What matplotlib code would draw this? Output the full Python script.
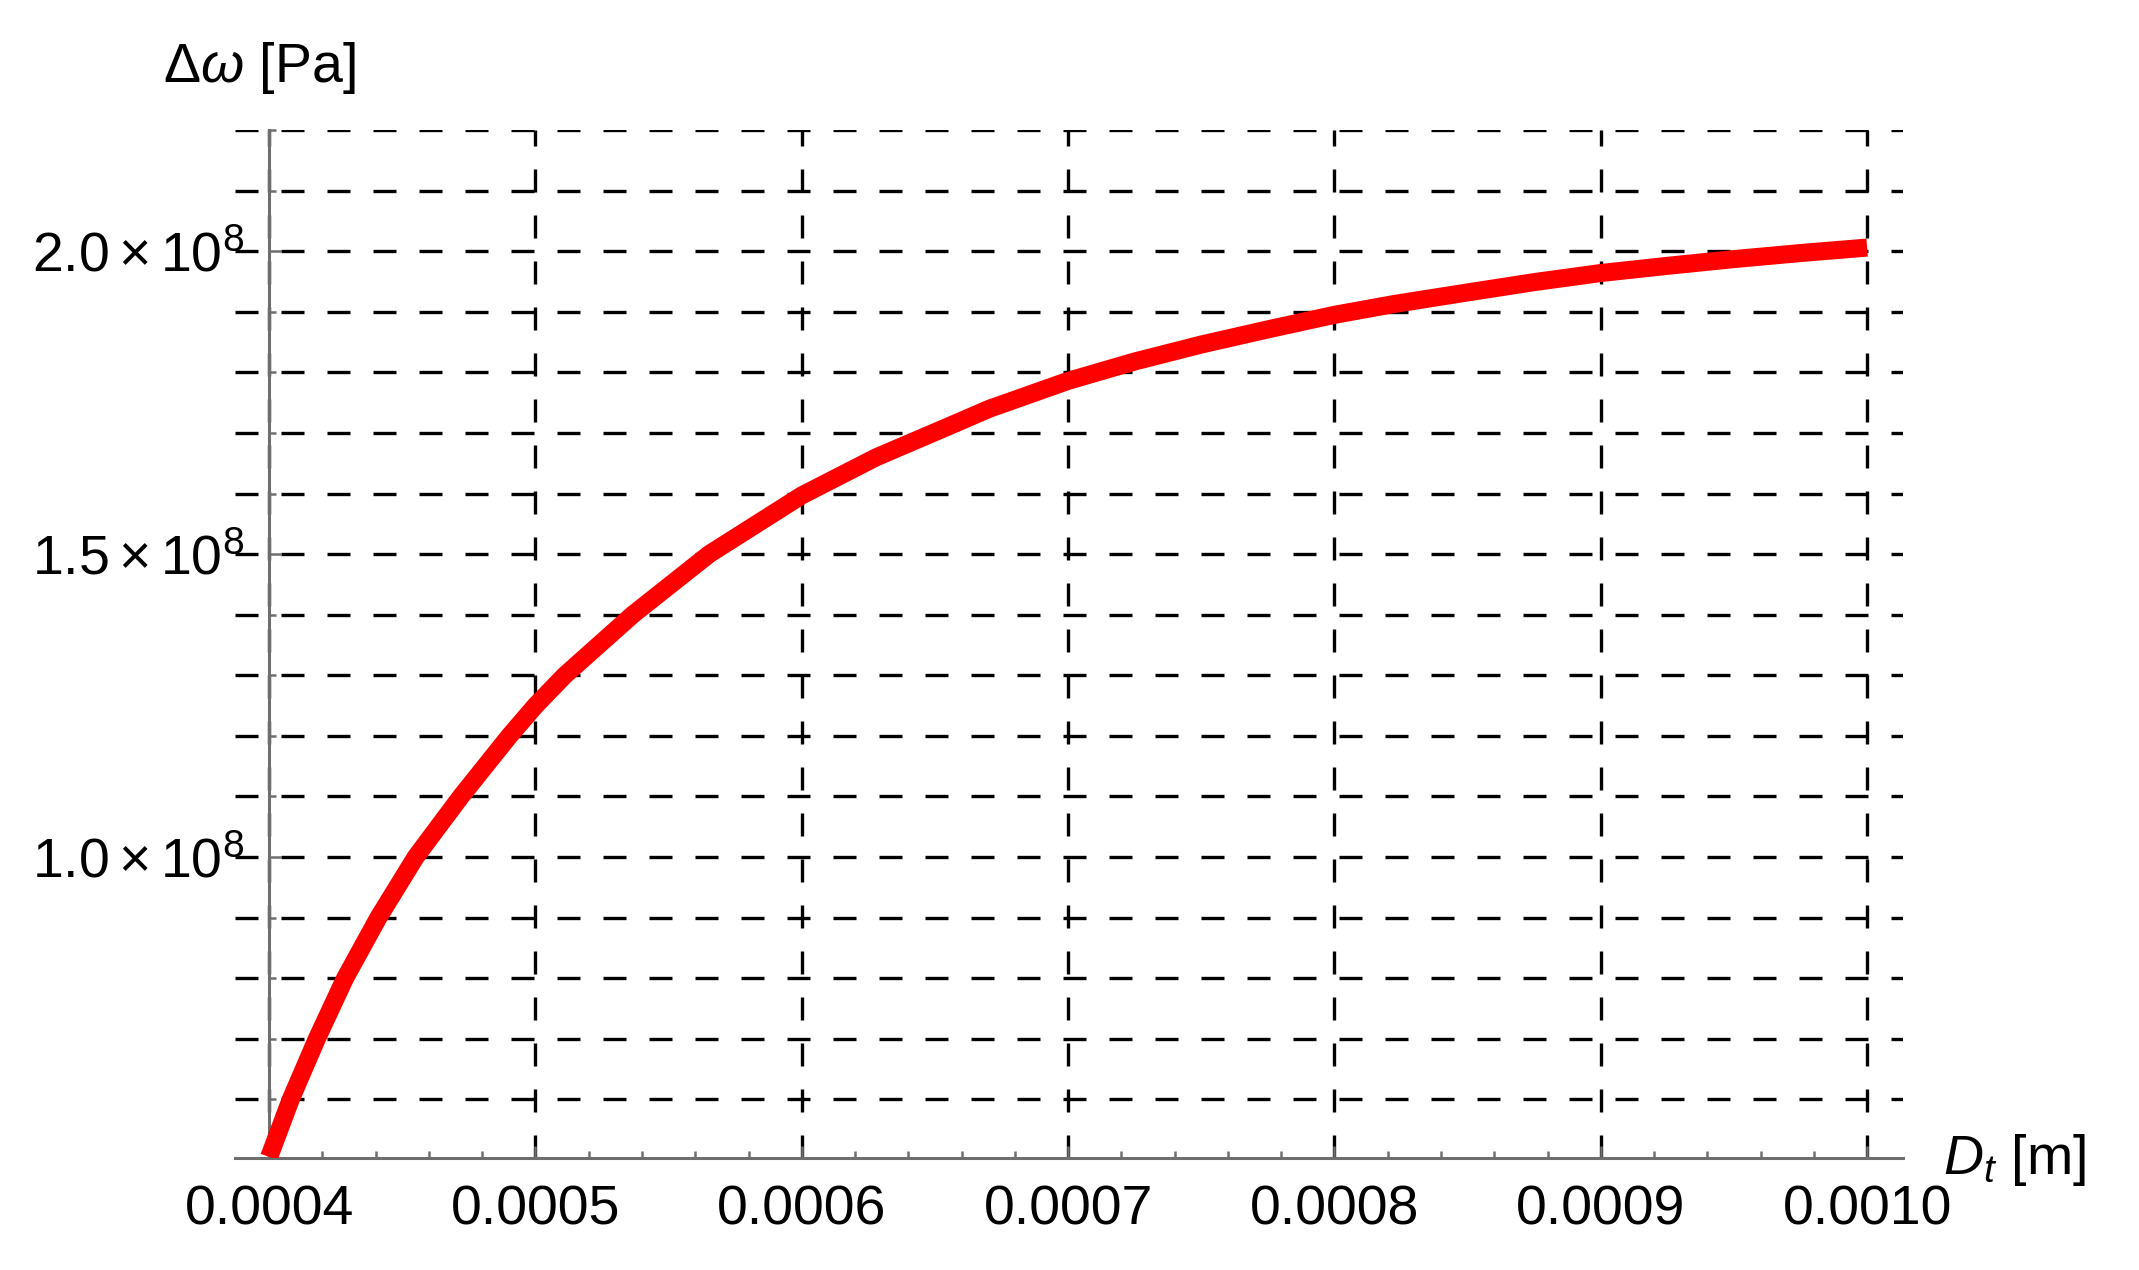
import matplotlib
matplotlib.use('Agg')
import matplotlib.pyplot as plt
from matplotlib.ticker import MultipleLocator

plt.rcParams['font.family'] = ['Liberation Sans', 'DejaVu Sans']
plt.rcParams['mathtext.fontset'] = 'custom'
plt.rcParams['mathtext.rm'] = 'Liberation Sans'
plt.rcParams['mathtext.it'] = 'Liberation Sans:italic'
plt.rcParams['mathtext.bf'] = 'Liberation Sans:bold'

# diametro D_t [m] e queda de pressao Delta omega [Pa]
dt = [0.0004000, 0.0004081, 0.0004179, 0.0004285, 0.0004410, 0.0004550,
      0.0004720, 0.0004902, 0.0005000, 0.0005110, 0.0005365, 0.0005652,
      0.0006000, 0.0006280, 0.0006562, 0.0006704, 0.0007000, 0.0007250,
      0.0007500, 0.0007750, 0.0008000, 0.0008226, 0.0008500, 0.0008750,
      0.0009000, 0.0009253, 0.0009500, 0.0009750, 0.0010000]
dw = [0.505e8, 0.600e8, 0.700e8, 0.800e8, 0.900e8, 1.000e8,
      1.100e8, 1.200e8, 1.250e8, 1.300e8, 1.400e8, 1.500e8,
      1.597e8, 1.660e8, 1.713e8, 1.740e8, 1.786e8, 1.818e8,
      1.846e8, 1.871e8, 1.895e8, 1.913e8, 1.932e8, 1.949e8,
      1.964e8, 1.976e8, 1.987e8, 1.997e8, 2.006e8]

x_ticks = [0.0004, 0.0005, 0.0006, 0.0007, 0.0008, 0.0009, 0.0010]
x_labels = ['0.0004', '0.0005', '0.0006', '0.0007', '0.0008', '0.0009', '0.0010']
y_ticks = [1.0e8, 1.5e8, 2.0e8]
y_labels = [r'$\mathregular{1.0\times10^{8}}$',
            r'$\mathregular{1.5\times10^{8}}$',
            r'$\mathregular{2.0\times10^{8}}$']

cinza = '#6e6e6e'
fs = 40

fig = plt.figure(figsize=(21.39, 12.70), dpi=100)
ax = fig.add_axes([0.1099, 0.0878, 0.7798, 0.8098])

ax.plot(dt, dw, color='#ff0000', lw=13, solid_capstyle='butt',
        solid_joinstyle='round', zorder=3)

ax.set_xlim(0.0003872, 0.0010135)
ax.set_ylim(0.5025e8, 2.2e8)

ax.set_xticks(x_ticks, x_labels)
ax.set_yticks(y_ticks, y_labels)
ax.xaxis.set_minor_locator(MultipleLocator(0.00002))
ax.yaxis.set_minor_locator(MultipleLocator(0.1e8))

ax.set_axisbelow(True)
estilo_grade = dict(color='black', lw=2.4, linestyle=(0, (6.9, 6.9)))
ax.grid(True, which='major', axis='x', **estilo_grade)
ax.grid(True, which='both', axis='y', **estilo_grade)

for lado in ['top', 'right']:
    ax.spines[lado].set_visible(False)
ax.spines['left'].set_position(('data', 0.0004))
for lado in ['left', 'bottom']:
    ax.spines[lado].set_color(cinza)
    ax.spines[lado].set_linewidth(2.2)

ax.tick_params(which='both', direction='in', color=cinza, labelsize=fs, labelcolor='black')
ax.tick_params(which='major', length=8.5, width=1.8)
ax.tick_params(which='minor', length=5, width=1.8)
ax.tick_params(axis='x', which='major', pad=19)
ax.tick_params(axis='y', which='major', pad=18)

fig.text(163 / 2139, 1 - 82 / 1270, r'$\Delta\omega$ [Pa]', fontsize=fs, ha='left', va='baseline')
fig.text(1943 / 2139, 1 - 1174 / 1270, r'$D_t$ [m]', fontsize=fs, ha='left', va='baseline')

fig.savefig('out.png', dpi=100)
